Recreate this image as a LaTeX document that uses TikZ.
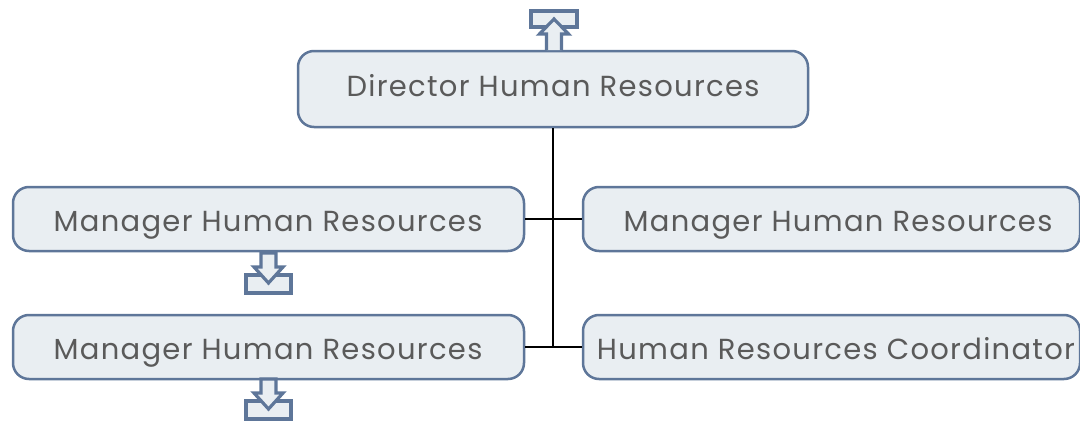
\documentclass[tikz,border=0pt]{standalone}
\usepackage{fontspec}
\setmainfont{Poppins}[LetterSpace=4.5]
\definecolor{boxfill}{HTML}{E9EEF2}
\definecolor{boxdraw}{HTML}{5E7699}
\definecolor{txt}{HTML}{5A5A5A}
\begin{document}
\begin{tikzpicture}[x=1pt,y=-1pt,
  box/.style={draw=boxdraw,fill=boxfill,line width=2.5pt,rounded corners=16pt,
    inner sep=0pt},
  lbl/.style={text=txt,font=\fontsize{29}{32}\selectfont,inner sep=0pt,anchor=base},
  conn/.style={draw=black,line width=2.5pt},
  icon/.style={draw=boxdraw,fill=boxfill,line width=3.2pt,line join=miter}]
\useasboundingbox (0,0) rectangle (1080,423);
\node[box,minimum width=510pt,minimum height=76pt] (d) at (553,89) {};
\node[box,minimum width=511pt,minimum height=64pt] (m1) at (268.5,219) {};
\node[box,minimum width=497pt,minimum height=64pt] (m2) at (831.5,219) {};
\node[box,minimum width=511pt,minimum height=64pt] (m3) at (268.5,347) {};
\node[box,minimum width=497pt,minimum height=64pt] (c) at (831.5,347) {};
\node[lbl] (td) at (553,96) {Director Human Resources};
\node[lbl] (tm1) at (268,231) {Manager Human Resources};
\node[lbl] (tm2) at (838,231) {Manager Human Resources};
\node[lbl] (tm3) at (268,359) {Manager Human Resources};
\node[lbl] (tc) at (836,359) {Human Resources Coordinator};
\coordinate (j) at (553,347);
\draw[conn] (d.south) -- (j);
\draw[conn] (m1.east) -- (m2.west);
\draw[conn] (m3.east) -- (c.west);
% top up icon
\draw[icon] (531,11) rectangle (577,27);
\draw[icon] (546.5,50) -- (546.5,34) -- (539.5,34) -- (554,19) -- (568.5,34) -- (561.5,34) -- (561.5,50);
% down icons
\foreach \yo in {0,126}{
\draw[icon] (246,275+\yo) rectangle (291,293+\yo);
\draw[icon] (261,253+\yo) -- (261,267+\yo) -- (254,267+\yo) -- (268.5,283+\yo) -- (283,267+\yo) -- (276,267+\yo) -- (276,253+\yo) -- cycle;
}
\end{tikzpicture}
\end{document}
